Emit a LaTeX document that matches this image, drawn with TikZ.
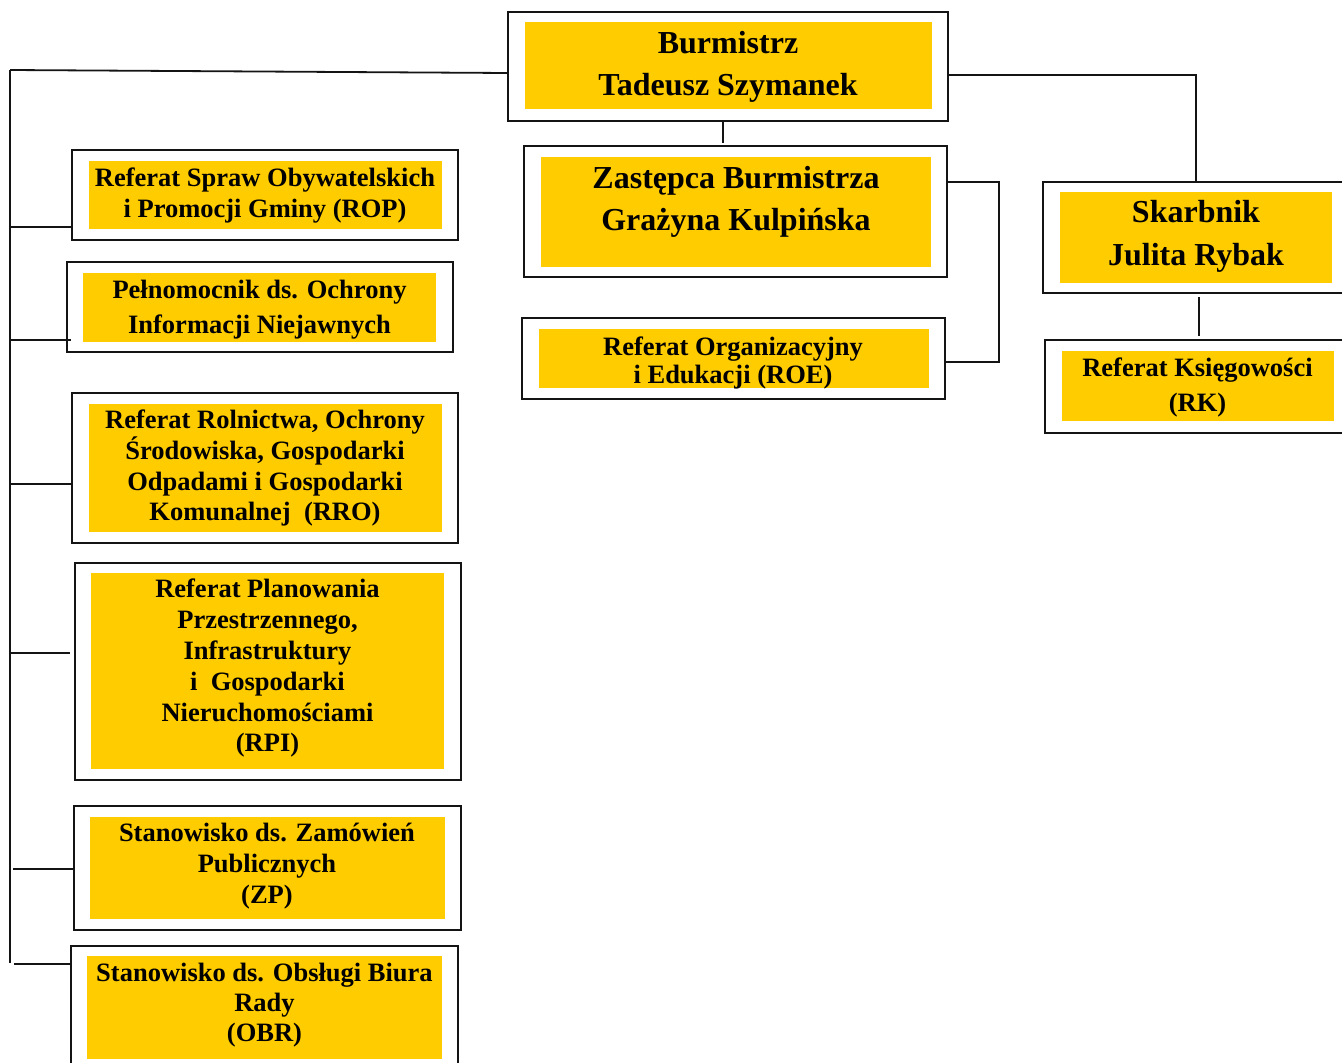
\documentclass[tikz,border=0pt]{standalone}
\usepackage{fontspec}
\setmainfont{Liberation Serif}
\definecolor{gold}{RGB}{255,204,0}
\definecolor{ink}{RGB}{20,20,20}
\tikzset{
  obox/.style={draw=ink, line width=2.2pt, fill=white, inner sep=0pt, outer sep=0pt},
  ybox/.style={fill=gold, draw=none, inner sep=0pt, outer sep=0pt},
  txt/.style={align=center, inner sep=0pt, text=black},
  big/.style={font=\bfseries\fontsize{32}{42}\selectfont},
  small/.style={font=\bfseries\fontsize{26.5}{31}\selectfont},
  conn/.style={draw=ink, line width=1.8pt},
}
\begin{document}
\begin{tikzpicture}[x=1pt,y=-1pt]
\clip (0,0) rectangle (1342,1063);
\fill[white] (0,0) rectangle (1342,1063);

% ---- boxes ----
\node[obox, minimum width=440, minimum height=109] (bur) at (728,66.5) {};
\node[ybox, minimum width=407, minimum height=87] (bur-in) at (728.5,65.5) {};
\node[txt, big] (bur-t) at (728,67) {Burmistrz\\Tadeusz Szymanek};

\node[obox, minimum width=423, minimum height=131] (zast) at (735.5,211.5) {};
\node[ybox, minimum width=390, minimum height=110] (zast-in) at (736,212) {};
\node[txt, big] (zast-t) at (736,202) {Zastępca Burmistrza\\Grażyna Kulpińska};

\node[obox, minimum width=423, minimum height=81] (roe) at (733.5,358.5) {};
\node[ybox, minimum width=390, minimum height=59] (roe-in) at (734,358.5) {};
\node[txt, font=\bfseries\fontsize{26.5}{28.5}\selectfont] (roe-t) at (733,363) {Referat Organizacyjny\\i Edukacji (ROE)};

\node[obox, minimum width=309, minimum height=111] (skb) at (1197.5,237.5) {};
\node[ybox, minimum width=272, minimum height=91] (skb-in) at (1196,237.5) {};
\node[txt, font=\bfseries\fontsize{32}{43}\selectfont] (skb-t) at (1196,236.5) {Skarbnik\\Julita Rybak};

\node[obox, minimum width=307, minimum height=93] (rk) at (1198.5,386.5) {};
\node[ybox, minimum width=272, minimum height=70] (rk-in) at (1198,386) {};
\node[txt, font=\bfseries\fontsize{26.5}{35}\selectfont] (rk-t) at (1197.5,387) {Referat Księgowości\\(RK)};

\node[obox, minimum width=386, minimum height=90] (rop) at (265,195) {};
\node[ybox, minimum width=353, minimum height=68] (rop-in) at (265.5,195) {};
\node[txt, small] (rop-t) at (265,195.4) {Referat Spraw Obywatelskich\\i Promocji Gminy (ROP)};

\node[obox, minimum width=386, minimum height=90] (pel) at (260,307) {};
\node[ybox, minimum width=353, minimum height=69] (pel-in) at (259.5,307.5) {};
\node[txt, font=\bfseries\fontsize{26.5}{35}\selectfont] (pel-t) at (259.5,310) {Pełnomocnik ds. Ochrony\\Informacji Niejawnych};

\node[obox, minimum width=386, minimum height=150] (rro) at (265,468) {};
\node[ybox, minimum width=353, minimum height=128] (rro-in) at (265.5,468) {};
\node[txt, font=\bfseries\fontsize{26.5}{30.7}\selectfont] (rro-t) at (265,468.4) {Referat Rolnictwa, Ochrony\\Środowiska, Gospodarki\\Odpadami i Gospodarki\\Komunalnej\ \ (RRO)};

\node[obox, minimum width=386, minimum height=217] (rpi) at (268,671.5) {};
\node[ybox, minimum width=353, minimum height=196] (rpi-in) at (267.5,671) {};
\node[txt, font=\bfseries\fontsize{26.5}{30.8}\selectfont] (rpi-t) at (267.5,668.4) {Referat Planowania\\Przestrzennego,\\Infrastruktury\\i\ \ Gospodarki\\Nieruchomościami\\(RPI)};

\node[obox, minimum width=387, minimum height=124] (zp) at (267.5,868) {};
\node[ybox, minimum width=355, minimum height=102] (zp-in) at (267.5,868) {};
\node[txt, small] (zp-t) at (267,866.4) {Stanowisko ds. Zamówień\\Publicznych\\(ZP)};

\node[obox, minimum width=387, minimum height=134] (obr) at (264.5,1013) {};
\node[ybox, minimum width=355, minimum height=103] (obr-in) at (264.5,1007.5) {};
\node[txt, font=\bfseries\fontsize{26.5}{30}\selectfont] (obr-t) at (264.5,1005.4) {Stanowisko ds. Obsługi Biura\\Rady\\(OBR)};

% ---- connectors ----
\coordinate (t0) at (10,70);
\coordinate (tb) at (10,963);
\draw[conn] (t0) -- ([yshift=-6.5pt]bur.west);
\draw[conn] (t0) -- (tb);

\coordinate (b1) at (10,227);
\coordinate (b2) at (10,340);
\coordinate (b3) at (10,484);
\coordinate (b4) at (10,653);
\coordinate (b5) at (13,869);
\coordinate (b6) at (14,964);
\draw[conn] (b1) -- (b1 -| rop.west);
\draw[conn] (b2) -- ([xshift=4pt]b2 -| pel.west);
\draw[conn] (b3) -- (b3 -| rro.west);
\draw[conn] (b4) -- ([xshift=-5pt]b4 -| rpi.west);
\draw[conn] (b5) -- (b5 -| zp.west);
\draw[conn] (b6) -- (b6 -| obr.west);

\coordinate (s1) at (1196,75);
\draw[conn] (s1 -| bur.east) -- (s1) -- (s1 |- skb.north);

\coordinate (m1) at (723,121);
\coordinate (m2) at (723,143);
\draw[conn] (m1) -- (m2);

\coordinate (z1) at (999,182);
\coordinate (z2) at (999,362);
\draw[conn] (z1 -| zast.east) -- (z1) -- (z2) -- (z2 -| roe.east);

\coordinate (k1) at (1199,297);
\coordinate (k2) at (1199,336);
\draw[conn] (k1) -- (k2);
\end{tikzpicture}
\end{document}
